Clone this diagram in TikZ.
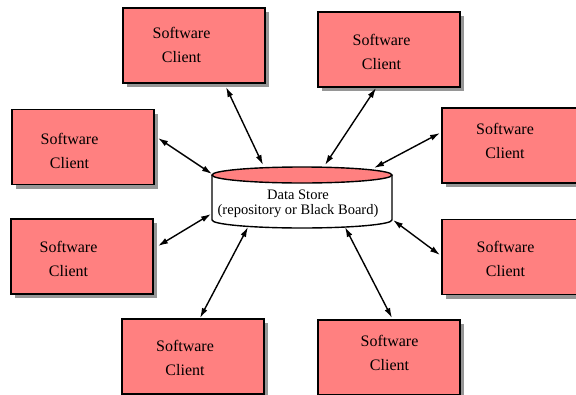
\documentclass[tikz,border=0pt]{standalone}
\usepackage{fontspec}
\setmainfont{Liberation Serif}
\usetikzlibrary{arrows.meta,shadows,calc}
\definecolor{boxred}{RGB}{255,128,128}
\definecolor{shadowgray}{RGB}{150,150,150}
\tikzset{
  client/.style={draw=black, line width=1.6pt, fill=boxred, minimum width=142pt, minimum height=75pt, inner sep=0pt,
    drop shadow={shadow xshift=4pt, shadow yshift=-4pt, fill=shadowgray, opacity=1}},
  ctext/.style={align=center, font=\fontsize{16pt}{24pt}\selectfont, inner sep=0pt},
  conn/.style={line width=1.4pt, {Latex[length=10pt,width=6pt]}-{Latex[length=10pt,width=6pt]}},
}
\begin{document}
\begin{tikzpicture}[x=1pt,y=-1pt]
\useasboundingbox (0,0) rectangle (576,394);
% boxes
\node[client] (TL) at (194,45.5) {};
\node[client] (TR) at (389,49.5) {};
\node[client] (L1) at (83,147) {};
\node[client] (R1) at (513,145.5) {};
\node[client] (L2) at (82,256.5) {};
\node[client] (R2) at (513,257) {};
\node[client] (BL) at (193,356.5) {};
\node[client] (BR) at (389,357.5) {};
% texts
\node[ctext] (tTL) at (181.5,45) {Software\\Client};
\node[ctext] (tTR) at (381.5,51.5) {Software\\Client};
\node[ctext] (tL1) at (69.5,150.5) {Software\\Client};
\node[ctext] (tR1) at (505,140.5) {Software\\Client};
\node[ctext] (tL2) at (68.5,259) {Software\\Client};
\node[ctext] (tR2) at (505.5,259) {Software\\Client};
\node[ctext] (tBL) at (185,358) {Software\\Client};
\node[ctext] (tBR) at (389.5,353) {Software\\Client};
% data store cylinder
\draw[line width=1.4pt, fill=white] (212,175) -- (212,220) arc[start angle=180, end angle=360, x radius=90pt, y radius=8pt] -- (392,175);
\draw[line width=1.4pt, fill=boxred] (302,175) ellipse [x radius=90pt, y radius=8pt];
\node[align=center, font=\fontsize{14.5pt}{14.5pt}\selectfont, inner sep=0pt] (store) at (298,204) {Data Store\\(repository or Black Board)};
% cylinder attachment points
\coordinate (c1) at (263,165);
\coordinate (c2) at (212,174);
\coordinate (c3) at (325,165);
\coordinate (c4) at (374,168);
\coordinate (c5) at (211,214);
\coordinate (c6) at (248,227);
\coordinate (c7) at (393,220);
\coordinate (c8) at (345,227);
% connectors
\draw[conn] ($(TL.center)+(32,41.5)$) -- (c1);
\draw[conn] ($(L1.center)+(75,-9)$) -- (c2);
\draw[conn] ($(TR.center)+(-13,38.5)$) -- (c3);
\draw[conn] ($(R1.center)+(-73,-12.5)$) -- (c4);
\draw[conn] ($(L2.center)+(76,-10.5)$) -- (c5);
\draw[conn] ($(BL.center)+(7,-38.5)$) -- (c6);
\draw[conn] ($(R2.center)+(-73,-2)$) -- (c7);
\draw[conn] ($(BR.center)+(3,-39.5)$) -- (c8);
\end{tikzpicture}
\end{document}
